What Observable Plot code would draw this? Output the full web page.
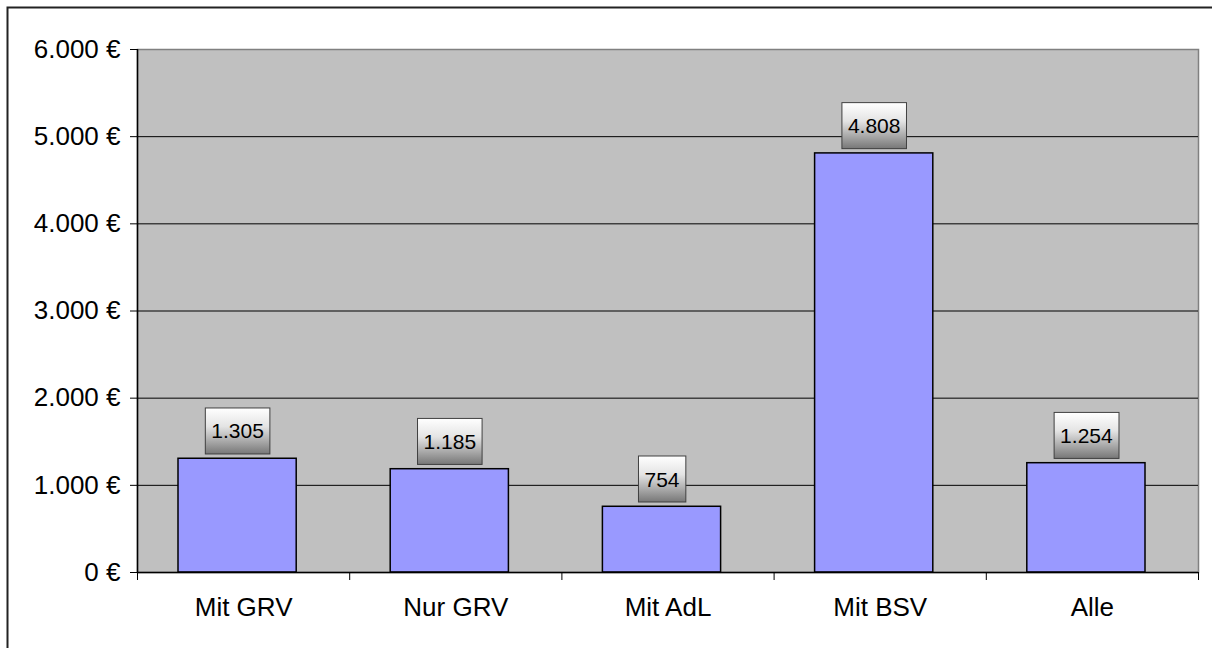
<!DOCTYPE html>
<html>
<head>
<meta charset="utf-8">
<script src="https://cdn.jsdelivr.net/npm/d3@7"></script>
<script src="https://cdn.jsdelivr.net/npm/@observablehq/plot@0.6"></script>
<style>
  html, body { margin: 0; padding: 0; background: #fff; }
  svg { display: block; }
</style>
</head>
<body>
<div id="chart"></div>
<script>
const categories = ["Mit GRV", "Nur GRV", "Mit AdL", "Mit BSV", "Alle"];
const values = [1305, 1185, 754, 4808, 1254];
const yTicks = [0, 1000, 2000, 3000, 4000, 5000, 6000];
const gridLines = [1000, 2000, 3000, 4000, 5000];

const data = categories.map((c, i) => ({category: c, value: values[i]}));

const W = 1212, H = 648;
const mL = 137, mR = 14, mT = 49, mB = 76;
const step = (W - mL - mR) / categories.length;
const de = v => d3.format(",")(v).replace(/,/g, ".");
const font = "'Liberation Sans', Arial, Helvetica, sans-serif";

const plot = Plot.plot({
  width: W,
  height: H,
  marginLeft: mL,
  marginRight: mR,
  marginTop: mT,
  marginBottom: mB,
  style: {fontFamily: font, color: "#000", background: "transparent"},
  x: {type: "band", domain: categories, padding: 0, round: false, label: null},
  y: {domain: [0, 6000], label: null},
  marks: [
    Plot.frame({fill: "#C0C0C0", stroke: "#808080", strokeWidth: 1.5}),
    Plot.ruleY(gridLines, {stroke: "#000", strokeWidth: 1}),
    Plot.barY(data, {x: "category", y: "value", fill: "#9999FF", stroke: "#000", strokeWidth: 1.5, insetLeft: 41, insetRight: 53}),
    Plot.ruleY([0], {stroke: "#000", strokeWidth: 1.5}),
    Plot.ruleX([categories[0]], {y1: 0, y2: 6000, dx: -step / 2, stroke: "#000", strokeWidth: 1.5}),
    Plot.axisY({ticks: yTicks, tickFormat: d => de(d) + " €", tickSize: 7, tickPadding: 10, fontSize: 26, stroke: "#000"}),
    Plot.axisX({tickSize: 8, text: null, dx: -step / 2, stroke: "#000"}),
    Plot.axisX([categories[categories.length - 1]], {tickSize: 8, text: null, dx: step / 2, stroke: "#000"}),
    Plot.axisX({tickSize: 0, tickPadding: 25, fontSize: 26}),
    Plot.text(data, {x: "category", y: "value", text: d => de(d.value), dx: -6, dy: -27, fontSize: 21, lineAnchor: "middle", fill: "#000"})
  ]
});

document.getElementById("chart").appendChild(plot);

// gradient label boxes behind value labels
const svgNS = "http://www.w3.org/2000/svg";
const defs = document.createElementNS(svgNS, "defs");
defs.innerHTML = '<linearGradient id="boxgrad" x1="0" y1="0" x2="0" y2="1">' +
  '<stop offset="0%" stop-color="#ffffff"/>' +
  '<stop offset="40%" stop-color="#e4e4e4"/>' +
  '<stop offset="100%" stop-color="#777777"/></linearGradient>';
plot.insertBefore(defs, plot.firstChild);

const labelSet = new Set(values.map(de));
const labelTexts = Array.from(plot.querySelectorAll("text")).filter(t => labelSet.has(t.textContent.trim()));
labelTexts.forEach(function (node) {
  const bb = node.getBBox();
  const cx = bb.x + bb.width / 2;
  const cy = bb.y + bb.height / 2;
  const w = bb.width + 12, h = 46;
  const r = document.createElementNS(svgNS, "rect");
  r.setAttribute("x", cx - w / 2);
  r.setAttribute("y", cy - h / 2);
  r.setAttribute("width", w);
  r.setAttribute("height", h);
  r.setAttribute("fill", "url(#boxgrad)");
  r.setAttribute("stroke", "#404040");
  r.setAttribute("stroke-width", 1);
  const tf = node.getAttribute("transform");
  if (tf) r.setAttribute("transform", tf);
  node.parentNode.insertBefore(r, node);
});

// outer chart border (top and left visible)
d3.select(plot).append("path").attr("d", `M7.5,${H}V7.5H${W}`).attr("fill", "none").attr("stroke", "#222").attr("stroke-width", 2);
</script>
</body>
</html>
